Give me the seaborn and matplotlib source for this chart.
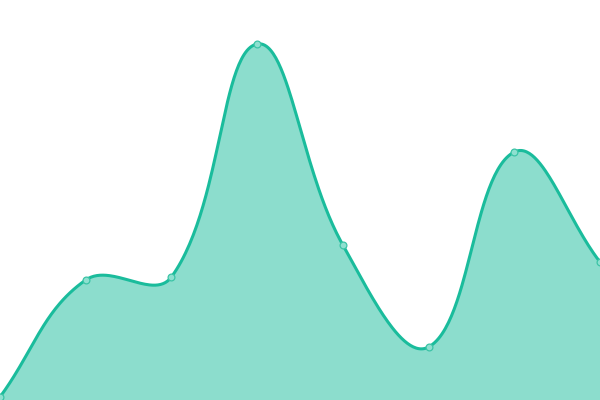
import numpy as np
import pandas as pd
import matplotlib
matplotlib.use("Agg")
import matplotlib.pyplot as plt
import seaborn as sns

# Data
labels = ["1", "2", "3", "4", "5", "6", "7", "8"]
values = [3, 120, 123, 356, 155, 53, 248, 138]

LINE = "#1abc9c"
FILL = (26/255, 188/255, 156/255, 0.5)

W, H = 600, 400
YMAX = 400
n = len(values)

sns.set_theme(style="white")

fig = plt.figure(figsize=(6, 4), dpi=100)
ax = fig.add_axes([0, 0, 1, 1])

# chart.js-like spline (tension 0.4) computed in pixel space
xs = np.arange(n, dtype=float)
px = xs * W / (n - 1)
py = np.array(values, dtype=float) * H / YMAX
t = 0.4
cps_prev, cps_next = [], []
for i in range(n):
    p0 = np.array([px[max(i - 1, 0)], py[max(i - 1, 0)]])
    p1 = np.array([px[i], py[i]])
    p2 = np.array([px[min(i + 1, n - 1)], py[min(i + 1, n - 1)]])
    d01 = np.hypot(*(p1 - p0))
    d12 = np.hypot(*(p2 - p1))
    tot = d01 + d12
    s01 = d01 / tot if tot else 0
    s12 = d12 / tot if tot else 0
    cps_prev.append(p1 - t * s01 * (p2 - p0))
    cps_next.append(p1 + t * s12 * (p2 - p0))

cx, cy = [], []
tt = np.linspace(0, 1, 60)
for i in range(n - 1):
    a = np.array([px[i], py[i]])
    b = cps_next[i]
    c = cps_prev[i + 1]
    d = np.array([px[i + 1], py[i + 1]])
    for u in tt[:-1] if i < n - 2 else tt:
        pt = (1-u)**3*a + 3*(1-u)**2*u*b + 3*(1-u)*u**2*c + u**3*d
        cx.append(pt[0]); cy.append(pt[1])
cx = np.array(cx) * (n - 1) / W
cy = np.clip(np.array(cy), 0, H) * YMAX / H

curve = pd.DataFrame({"x": cx, "y": cy})
pts = pd.DataFrame({"x": xs, "y": values})

ax.fill_between(curve["x"], 0, curve["y"], color=FILL, linewidth=0)
sns.lineplot(data=curve, x="x", y="y", ax=ax, color=LINE, linewidth=2.2, sort=False)
sns.scatterplot(data=pts, x="x", y="y", ax=ax, s=24, color="#8ee0d0",
                edgecolor="#3cc4a6", linewidth=0.9, zorder=5, clip_on=False)

ax.set_xlim(0, n - 1)
ax.set_ylim(0, YMAX)
ax.set_xlabel("")
ax.set_ylabel("")
ax.set_xticks([])
ax.set_yticks([])
for s in ax.spines.values():
    s.set_visible(False)

fig.savefig("out.png", dpi=100)
